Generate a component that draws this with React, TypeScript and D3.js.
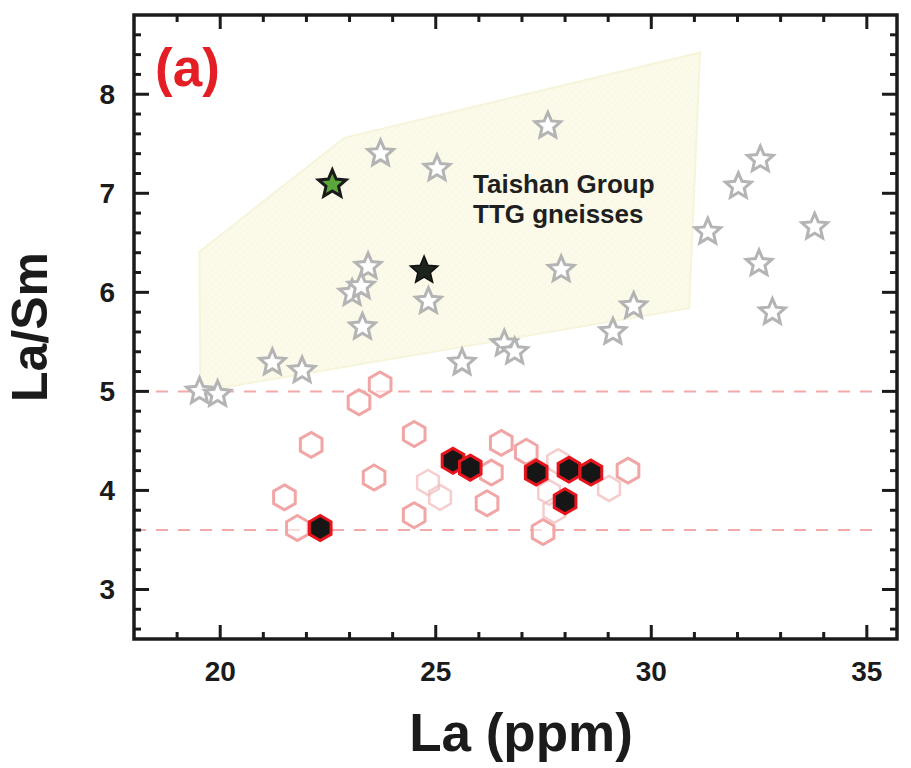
import React from "react";
import * as d3 from "d3";

// ---- Data ----
const xTicksMajor = [20, 25, 30, 35];
const yTicksMajor = [3, 4, 5, 6, 7, 8];

// Taishan Group TTG gneisses field (La, La/Sm)
const fieldX = [19.52, 22.88, 31.13, 30.88, 19.54];
const fieldY = [6.41, 7.56, 8.42, 5.84, 5.0];

// Grey open stars (TTG gneisses)
const starLa = [27.6, 23.72, 25.03, 32.53, 32.02, 31.31, 33.79, 32.5, 32.81, 27.91, 29.59, 29.11, 26.59, 26.83, 23.43, 23.06, 23.27, 23.3, 24.83, 21.21, 21.9, 19.52, 19.94, 25.61];
const starLaSm = [7.68, 7.4, 7.25, 7.34, 7.07, 6.61, 6.66, 6.29, 5.8, 6.23, 5.86, 5.6, 5.48, 5.4, 6.26, 5.99, 6.06, 5.65, 5.91, 5.29, 5.21, 5.0, 4.97, 5.29];

// Highlighted stars
const blackStar = [24.73, 6.22];
const greenStar = [22.6, 7.09];

// Open pink hexagons
const hexLa = [23.71, 23.22, 22.11, 24.5, 23.57, 21.49, 21.79, 24.5, 26.29, 26.19, 26.52, 27.1, 27.49, 29.46];
const hexLaSm = [5.07, 4.89, 4.46, 4.57, 4.13, 3.93, 3.62, 3.75, 4.18, 3.87, 4.48, 4.39, 3.58, 4.2];

// Faint pink hexagons
const faintHexLa = [24.82, 25.1, 27.84, 27.63, 27.75, 29.02];
const faintHexLaSm = [4.08, 3.93, 4.29, 3.98, 3.8, 4.02];

// Filled black hexagons
const fillHexLa = [22.32, 25.4, 25.8, 27.33, 28.09, 28.6, 28.0];
const fillHexLaSm = [3.62, 4.3, 4.23, 4.18, 4.21, 4.18, 3.89];

// Reference lines
const refLines = [5.0, 3.6];

// ---- Layout ----
const W = 911;
const H = 768;
const L = 134, R = 897, T = 15, B = 639;
const FONT = "'Liberation Sans', Arial, Helvetica, sans-serif";

const x = d3.scaleLinear().domain([18, 35.7]).range([L, R]);
const y = d3.scaleLinear().domain([2.5, 8.8]).range([B, T]);

const xMinor = d3.range(18, 36, 1).filter((v) => !xTicksMajor.includes(v) && v > 18);
const yMinor = d3.range(26, 88, 2).map((v) => v / 10).filter((v) => Math.abs(v - Math.round(v)) > 0.01);

function starPath(ro: number, ri: number) {
  const pts: [number, number][] = d3.range(10).map((i) => [(i * Math.PI) / 5, i % 2 === 0 ? ro : ri]);
  return d3.lineRadial().curve(d3.curveLinearClosed)(pts) as string;
}
function hexPath(r: number) {
  const pts: [number, number][] = d3.range(6).map((i) => [(i * Math.PI) / 3, r]);
  return d3.lineRadial().curve(d3.curveLinearClosed)(pts) as string;
}

const greyStar = starPath(13.5, 6.2);
const bigStar = starPath(14.5, 6.6);
const hex = hexPath(12.5);

const fieldPath = d3.line()(fieldX.map((v, i) => [x(v), y(fieldY[i])] as [number, number])) + "Z";

export default function App() {
  const axisColor = "#1b1b1b";
  return (
    <div style={{ position: "absolute", left: 0, top: 0 }}>
      <svg width={W} height={H} viewBox={`0 0 ${W} ${H}`} style={{ display: "block", background: "#fff" }}>
        <defs>
          <pattern id="hatch" width="5" height="5" patternUnits="userSpaceOnUse" patternTransform="rotate(45)">
            <rect width="5" height="5" fill="#fcfbeb" />
            <line x1="0" y1="0" x2="0" y2="5" stroke="#f7f5dd" strokeWidth="1" />
            <line x1="0" y1="0" x2="5" y2="0" stroke="#f9f7e3" strokeWidth="1" />
          </pattern>
          <clipPath id="plot">
            <rect x={L} y={T} width={R - L} height={B - T} />
          </clipPath>
        </defs>

        {/* field */}
        <path d={fieldPath} fill="url(#hatch)" stroke="#f6f4da" strokeWidth={2} />

        {/* reference dashed lines */}
        <g clipPath="url(#plot)">
          {refLines.map((v, i) => (
            <line key={i} x1={L} x2={i === 0 ? R : x(35.3)} y1={y(v)} y2={y(v)} stroke="#f2a9a9" strokeWidth={2} strokeDasharray="12 10" />
          ))}
        </g>

        {/* field label */}
        <g fontFamily={FONT} fontWeight="bold" fontSize={26} fill="#1f1f1f">
          <text x={473} y={193}>Taishan Group</text>
          <text x={473} y={223}>TTG gneisses</text>
        </g>

        {/* grey stars */}
        {starLa.map((v, i) => (
          <path key={"s" + i} d={greyStar} transform={`translate(${x(v)},${y(starLaSm[i])})`} fill="#ffffff" stroke="#b4b4b4" strokeWidth={3} strokeLinejoin="miter" />
        ))}

        {/* hexagons */}
        {faintHexLa.map((v, i) => (
          <path key={"f" + i} d={hex} transform={`translate(${x(v)},${y(faintHexLaSm[i])})`} fill="none" stroke="#f3bcbc" strokeWidth={2.5} opacity={0.75} />
        ))}
        {hexLa.map((v, i) => (
          <path key={"h" + i} d={hex} transform={`translate(${x(v)},${y(hexLaSm[i])})`} fill="#ffffff" fillOpacity={0.6} stroke="#f1a5a5" strokeWidth={3} />
        ))}
        {fillHexLa.map((v, i) => (
          <path key={"b" + i} d={hex} transform={`translate(${x(v)},${y(fillHexLaSm[i])})`} fill="#161616" stroke="#e8141c" strokeWidth={3} />
        ))}

        {/* highlighted stars */}
        <path d={bigStar} transform={`translate(${x(blackStar[0])},${y(blackStar[1])})`} fill="#1d241e" stroke="#111" strokeWidth={1.5} />
        <path d={bigStar} transform={`translate(${x(greenStar[0])},${y(greenStar[1])})`} fill="#5aa83a" stroke="#1a1a1a" strokeWidth={3} />

        {/* axes frame */}
        <rect x={L} y={T} width={R - L} height={B - T} fill="none" stroke={axisColor} strokeWidth={3.5} />

        {/* ticks */}
        <g stroke={axisColor} strokeWidth={3}>
          {xTicksMajor.map((v) => (
            <g key={"xM" + v}>
              <line x1={x(v)} x2={x(v)} y1={B} y2={B - 14} />
              <line x1={x(v)} x2={x(v)} y1={T} y2={T + 14} />
            </g>
          ))}
          {xMinor.map((v) => (
            <g key={"xm" + v}>
              <line x1={x(v)} x2={x(v)} y1={B} y2={B - 7} />
              <line x1={x(v)} x2={x(v)} y1={T} y2={T + 7} />
            </g>
          ))}
          {yTicksMajor.map((v) => (
            <g key={"yM" + v}>
              <line x1={L} x2={L + 15} y1={y(v)} y2={y(v)} />
              <line x1={R} x2={R - 15} y1={y(v)} y2={y(v)} />
            </g>
          ))}
          {yMinor.map((v) => (
            <g key={"ym" + v}>
              <line x1={L} x2={L + 7} y1={y(v)} y2={y(v)} />
              <line x1={R} x2={R - 7} y1={y(v)} y2={y(v)} />
            </g>
          ))}
        </g>

        {/* tick labels */}
        <g fontFamily={FONT} fontWeight="bold" fontSize={28} fill="#1b1b1b">
          {xTicksMajor.map((v) => (
            <text key={"xl" + v} x={x(v)} y={681} textAnchor="middle">{v}</text>
          ))}
          {yTicksMajor.map((v) => (
            <text key={"yl" + v} x={115} y={y(v) + 10} textAnchor="end">{v}</text>
          ))}
        </g>

        {/* axis titles */}
        <text x={521} y={751} textAnchor="middle" fontFamily={FONT} fontWeight="bold" fontSize={53} fill="#1b1b1b">La (ppm)</text>
        <text transform={`translate(47,327) rotate(-90)`} textAnchor="middle" fontFamily={FONT} fontWeight="bold" fontSize={50} fill="#1b1b1b">La/Sm</text>

        {/* panel label */}
        <text x={155} y={86} fontFamily={FONT} fontWeight="bold" fontSize={53} fill="#e31e25">(a)</text>
      </svg>
    </div>
  );
}
